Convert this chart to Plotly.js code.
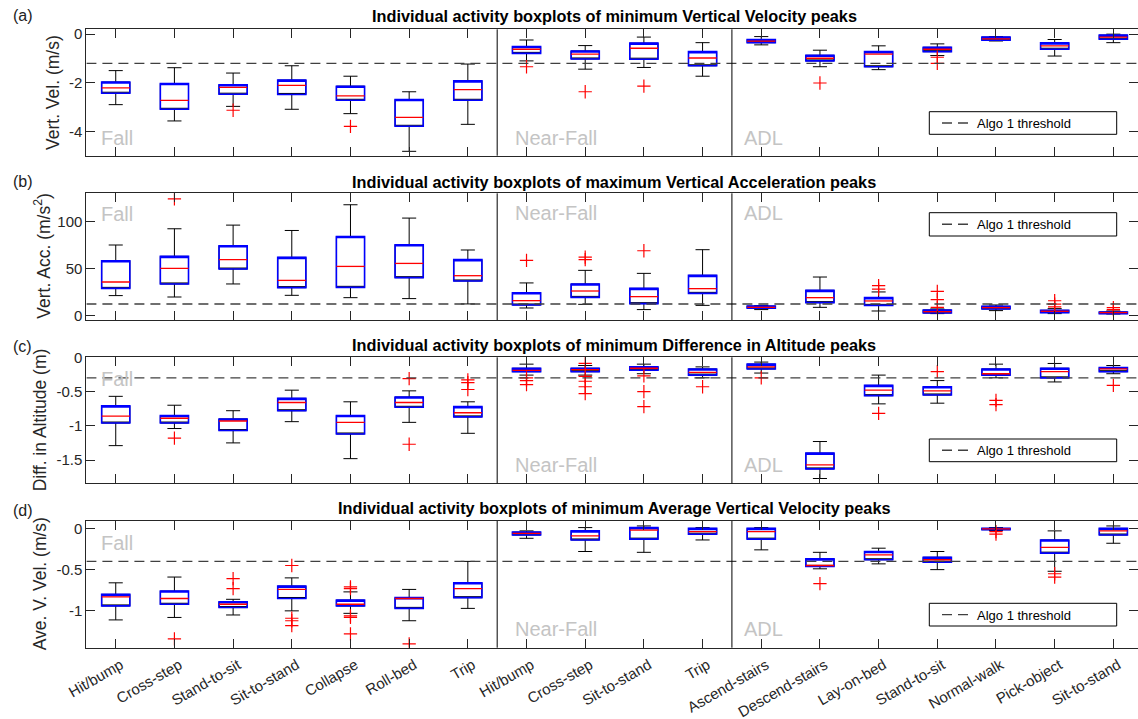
<!DOCTYPE html>
<html><head><meta charset="utf-8">
<script src="https://cdn.plot.ly/plotly-3.0.1.min.js"></script>
<style>html,body{margin:0;padding:0;background:#fff}#chart{width:1138px;height:719px}</style>
</head><body><div id="chart"></div>
<script>
const categories = ['Hit/bump','Cross-step','Stand-to-sit','Sit-to-stand','Collapse','Roll-bed','Trip',
  'Hit/bump','Cross-step','Sit-to-stand','Trip',
  'Ascend-stairs','Descend-stairs','Lay-on-bed','Stand-to-sit','Normal-walk','Pick-object','Sit-to-stand'];
const positions = [1,2,3,4,5,6,7,8,9,10,11,12,13,14,15,16,17,18];
const groupLabels = ['Fall','Near-Fall','ADL'];
const groupSizes = [7,4,7];

// (a) minimum Vertical Velocity peaks
const velHi  = [-1.5,-1.38,-1.6,-1.3,-1.73,-2.37,-1.23,-0.24,-0.47,-0.12,-0.35,-0.1,-0.66,-0.48,-0.4,-0.1,-0.22,0.0];
const velQ3  = [-1.97,-2.03,-2.08,-1.89,-2.14,-2.69,-1.92,-0.51,-0.69,-0.37,-0.72,-0.22,-0.87,-0.72,-0.54,-0.12,-0.36,-0.04];
const velMed = [-2.21,-2.72,-2.19,-2.11,-2.54,-3.42,-2.28,-0.62,-0.82,-0.58,-0.98,-0.29,-0.99,-0.82,-0.62,-0.19,-0.48,-0.12];
const velQ1  = [-2.43,-3.09,-2.47,-2.48,-2.72,-3.79,-2.72,-0.79,-1.02,-1.03,-1.3,-0.35,-1.1,-1.34,-0.72,-0.25,-0.62,-0.21];
const velLo  = [-2.9,-3.57,-2.97,-3.09,-3.27,-4.82,-3.71,-1.1,-1.44,-1.37,-1.73,-0.44,-1.34,-1.46,-0.88,-0.28,-0.9,-0.35];
const velOut = [[],[],[-3.13],[],[-3.79],[],[],[-1.34],[-2.37],[-2.14],[],[],[-2.01],[],[-0.95,-1.2],[],[],[]];

// (b) maximum Vertical Acceleration peaks
const accHi  = [74.9,92.2,96.1,90.4,117.8,103.6,69.6,34.5,47.9,44.7,69.9,10.3,40.8,24.9,6.8,11,7.1,4.6];
const accQ3  = [58.2,62.8,74.1,61.7,84,75.2,59.3,24.1,33.4,28.7,42.6,9.8,26.6,18.8,5.7,9.6,5.3,3.6];
const accMed = [35.5,50,59.3,37.2,52.1,55.3,42.2,15.6,25.9,19.9,28.4,8.5,18.8,15.3,3.9,8.2,4.3,2.9];
const accQ1  = [28.7,33.4,49.3,29.5,29.8,40.1,36.6,11,19.1,12.4,23.4,7.7,13.5,10.6,2.5,6.8,2.9,1.8];
const accLo  = [21,19.5,33.4,21.3,18.8,17.8,12.1,7.8,11.7,6.1,10.6,6.1,8.5,4.6,1.8,5,1.8,1.4];
const accOut = [[],[124],[],[],[],[],[],[58.5],[62.1,59.3],[68.8],[],[],[],[31.6,28],[25.5,16.7,8.5],[],[15.5,12,8.9],[8.2,6.1]];

// (c) minimum Difference in Altitude peaks
const altHi  = [-0.57,-0.70,-0.78,-0.48,-0.65,-0.49,-0.65,-0.1,-0.12,-0.1,-0.14,-0.07,-1.23,-0.26,-0.34,-0.1,-0.09,-0.12];
const altQ3  = [-0.71,-0.85,-0.90,-0.60,-0.85,-0.58,-0.72,-0.16,-0.16,-0.14,-0.17,-0.1,-1.40,-0.41,-0.43,-0.17,-0.16,-0.15];
const altMed = [-0.86,-0.89,-0.93,-0.66,-0.95,-0.66,-0.81,-0.19,-0.18,-0.16,-0.22,-0.14,-1.57,-0.48,-0.49,-0.24,-0.21,-0.17];
const altQ1  = [-0.96,-0.96,-1.07,-0.78,-1.12,-0.73,-0.87,-0.21,-0.21,-0.19,-0.26,-0.17,-1.63,-0.56,-0.55,-0.26,-0.30,-0.21];
const altLo  = [-1.29,-1.04,-1.25,-0.94,-1.48,-0.95,-1.11,-0.26,-0.26,-0.24,-0.30,-0.23,-1.77,-0.68,-0.67,-0.30,-0.36,-0.24];
const altOut = [[],[-1.18],[],[],[],[-0.31,-1.27],[-0.33,-0.37,-0.47],[-0.30,-0.34,-0.40],[-0.09,-0.28,-0.35,-0.43,-0.53],
  [-0.27,-0.50,-0.72],[-0.43],[-0.30],[],[-0.82],[-0.21],[-0.63,-0.69],[],[-0.41]];

// (d) minimum Average Vertical Velocity peaks
const avgHi  = [-0.66,-0.59,-0.86,-0.60,-0.77,-0.74,-0.40,-0.03,0.01,0.03,0.01,0.01,-0.29,-0.24,-0.28,0.01,-0.03,0.03];
const avgQ3  = [-0.80,-0.76,-0.89,-0.70,-0.87,-0.84,-0.66,-0.045,-0.03,0.01,0.0,0.0,-0.37,-0.28,-0.35,0.0,-0.14,0.0];
const avgMed = [-0.83,-0.85,-0.92,-0.74,-0.92,-0.85,-0.73,-0.06,-0.09,-0.02,-0.04,-0.04,-0.45,-0.32,-0.38,-0.005,-0.23,-0.03];
const avgQ1  = [-0.94,-0.92,-0.96,-0.85,-0.94,-0.97,-0.84,-0.08,-0.14,-0.13,-0.07,-0.13,-0.46,-0.38,-0.41,-0.015,-0.30,-0.08];
const avgLo  = [-1.11,-1.08,-1.05,-1.0,-1.03,-1.12,-0.97,-0.12,-0.28,-0.29,-0.14,-0.26,-0.49,-0.43,-0.50,-0.025,-0.52,-0.18];
const avgOut = [[],[-1.34],[-0.61,-0.73],[-0.45,-1.09,-1.12,-1.18],[-0.71,-0.73,-1.06,-1.08,-1.28],[-1.40],[],[],[],[],[],[],
  [-0.67],[],[],[-0.04,-0.07],[-0.55,-0.59],[]];

const thresholds = [-1.2, 12, -0.3, -0.4];
const thresholdName = 'Algo 1 threshold';
const panelTitles = [
  'Individual activity boxplots of minimum Vertical Velocity peaks',
  'Individual activity boxplots of maximum Vertical Acceleration peaks',
  'Individual activity boxplots of minimum Difference in Altitude peaks',
  'Individual activity boxplots of minimum Average Vertical Velocity peaks'];
const panelLetters = ['(a)','(b)','(c)','(d)'];
const yTitles = ['Vert. Vel. (m/s)','Vert. Acc. (m/s<sup>2</sup>)','Diff. in Altitude (m)','Ave. V. Vel. (m/s)'];
const yTicks = [[-4,-2,0],[0,50,100],[-1.5,-1,-0.5,0],[-1,-0.5,0]];
const yTickText = [['-4','-2','0'],['0','50','100'],['-1.5','-1','-0.5','0'],['-1','-0.5','0']];
const yRanges = [[-5,0.2],[-5,130],[-1.84,0.0],[-1.447,0.09]];

const series = [
  {hi:velHi,q3:velQ3,med:velMed,q1:velQ1,lo:velLo,out:velOut},
  {hi:accHi,q3:accQ3,med:accMed,q1:accQ1,lo:accLo,out:accOut},
  {hi:altHi,q3:altQ3,med:altMed,q1:altQ1,lo:altLo,out:altOut},
  {hi:avgHi,q3:avgQ3,med:avgMed,q1:avgQ1,lo:avgLo,out:avgOut}];

// ---------- layout geometry (pixels of the 1138x719 figure) ----------
const W = 1138, H = 719;
const px = v => v / W, py = v => 1 - v / H;
const plotTopBottom = [[29.3,155.7],[193.3,320],[357.3,483.3],[521,647.7]];
const titleY = [16,182,345,508];
const letterY = [16,182,346,510];
const legendBox = [[111.7,134.3],[212.7,236],[439,461.7],[603.3,626]];
const legendBoxX = [929.3,1116.7];
const yTitleX = [53.5,42,40,40];
const groupLabelY = [[137.5,137.5,137.5],[214,213,213],[379,465,465],[543,629,629]];
const groupLabelShift = [13,16,10];
const FONT = 'Liberation Sans, Arial, Helvetica, sans-serif';
const AX = '#262626';
const BOXW = 0.48;

const traces = [];
const layout = {
  width: W, height: H, margin: {l:0,r:0,t:0,b:0},
  paper_bgcolor: '#fff', plot_bgcolor: '#fff',
  font: {family: FONT, color: AX, size: 15},
  showlegend: true, boxmode: 'overlay',
  annotations: [], shapes: []
};

// group boundaries from sizes
const bounds = [];
{ let c = 0; for (let g = 0; g < groupSizes.length - 1; g++) { c += groupSizes[g]; bounds.push(c + 0.5); } }
const groupStarts = [0.5].concat(bounds);

series.forEach((s, p) => {
  const suf = p === 0 ? '' : String(p + 1);
  const xa = 'x' + suf, ya = 'y' + suf;
  // black whiskers/caps (median hidden on the box edge)
  traces.push({type:'box', x: positions, q1: s.q1, median: s.q1, q3: s.q3,
    lowerfence: s.lo, upperfence: s.hi, width: BOXW, whiskerwidth: 0.5,
    boxpoints: false, line: {color:'#000', width:1}, fillcolor:'rgba(0,0,0,0)',
    showlegend:false, hoverinfo:'skip', xaxis: xa, yaxis: ya});
  // blue boxes
  traces.push({type:'box', x: positions, q1: s.q1, median: s.q3, q3: s.q3,
    lowerfence: s.q1, upperfence: s.q3, width: BOXW, whiskerwidth: 0,
    boxpoints: false, line: {color:'#0000ff', width:1.6}, fillcolor:'rgba(0,0,0,0)',
    showlegend:false, hoverinfo:'skip', xaxis: xa, yaxis: ya});
  // red medians
  const mx = [], my = [];
  positions.forEach((x, i) => { mx.push(x - BOXW/2, x + BOXW/2, null); my.push(s.med[i], s.med[i], null); });
  traces.push({type:'scatter', mode:'lines', x: mx, y: my, line:{color:'#ff0000', width:1.3},
    showlegend:false, hoverinfo:'skip', xaxis: xa, yaxis: ya});
  // outliers
  const ox = [], oy = [];
  s.out.forEach((arr, i) => arr.forEach(v => { ox.push(positions[i]); oy.push(v); }));
  traces.push({type:'scatter', mode:'markers', x: ox, y: oy,
    marker:{symbol:'cross-thin', size:9.5, color:'#ff0000', line:{color:'#ff0000', width:1.2}},
    showlegend:false, hoverinfo:'skip', xaxis: xa, yaxis: ya});
  // threshold
  traces.push({type:'scatter', mode:'lines', x:[0.5, 18.5], y:[thresholds[p], thresholds[p]],
    name: thresholdName, line:{color:'#404040', width:1.4, dash:'10px,6px'},
    showlegend:true, legend: 'legend' + suf, hoverinfo:'skip', xaxis: xa, yaxis: ya});

  const [top, bot] = plotTopBottom[p];
  layout['xaxis' + suf] = {domain:[px(86.4), 1], range:[0.5, 18.42], anchor: ya,
    tickmode:'array', tickvals: positions, ticktext: categories,
    showticklabels: p === 3, tickangle: -30, tickfont:{size:15, color:AX},
    ticklabelstandoff: 2, ticklabelshift: 5,
    ticks:'inside', ticklen:9, tickcolor:AX, showline:true, linecolor:AX, linewidth:1,
    mirror:'ticks', showgrid:false, zeroline:false, automargin:false};
  layout['yaxis' + suf] = {domain:[py(bot), py(top)], range: yRanges[p], anchor: xa,
    tickmode:'array', tickvals: yTicks[p], ticktext: yTickText[p], tickfont:{size:15, color:AX},
    ticks:'inside', ticklen:9, tickcolor:AX, showline:true, linecolor:AX, linewidth:1,
    mirror:'ticks', showgrid:false, zeroline:false, automargin:false};

  // legend box frame + legend entry
  const [lt, lb] = legendBox[p];
  layout.shapes.push({type:'rect', xref:'paper', yref:'paper', layer:'above',
    x0: px(legendBoxX[0]), x1: px(legendBoxX[1]), y0: py(lb), y1: py(lt),
    fillcolor:'#fff', line:{color:'#000', width:1}});
  layout['legend' + suf] = {x: px(937), xanchor:'left', y: py((lt + lb) / 2 - 15), yanchor:'top',
    bgcolor:'rgba(0,0,0,0)', borderwidth:0, itemwidth:30, font:{size:13, color:'#000'}};

  // y-axis title
  layout.annotations.push({text: yTitles[p], textangle:-90, xref:'paper', x: px(yTitleX[p]), xanchor:'center',
    yref:'paper', y: py((top + bot) / 2), yanchor:'middle', showarrow:false, font:{size:17.5, color:AX}});
  // group separators
  bounds.forEach(b => layout.shapes.push({type:'line', xref: xa, yref: ya + ' domain',
    x0:b, x1:b, y0:0, y1:1, line:{color:'#000', width:1}}));
  // group labels
  groupLabels.forEach((g, gi) => layout.annotations.push({text: g, xref: xa, x: groupStarts[gi],
    xanchor:'left', xshift: groupLabelShift[gi], yref:'paper', y: py(groupLabelY[p][gi]), yanchor:'middle',
    showarrow:false, font:{size:20, color:'#c4c4c4'}}));
  // panel title & letter
  layout.annotations.push({text:'<b>' + panelTitles[p] + '</b>', xref:'paper', x: px(614), xanchor:'center',
    yref:'paper', y: py(titleY[p]), yanchor:'middle', showarrow:false, font:{size:16.3, color:'#000'}});
  layout.annotations.push({text: panelLetters[p], xref:'paper', x: px(11), xanchor:'left',
    yref:'paper', y: py(letterY[p]), yanchor:'middle', showarrow:false, font:{size:16, color:'#222'}});
});

Plotly.newPlot('chart', traces, layout, {displayModeBar:false, staticPlot:true});
</script></body></html>
